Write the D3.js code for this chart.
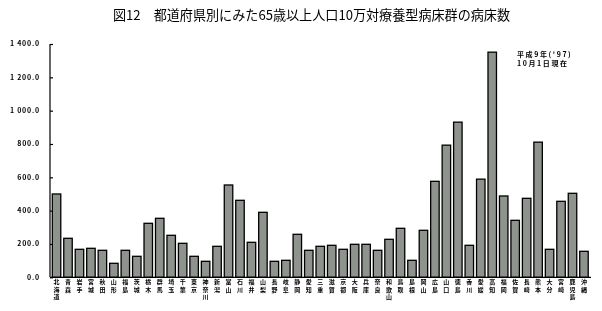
<!DOCTYPE html>
<html>
<head>
<meta charset="utf-8">
<script src="https://cdn.jsdelivr.net/npm/d3@7"></script>
<style>
	body { margin: 0; background: #fff; }
	svg { display: block; font-family: "Noto Sans CJK JP", sans-serif; will-change: transform; }
</style>
</head>
<body>
<div id="viz"></div>
<script>
// 都道府県
const prefs = ['北海道', '青森', '岩手', '宮城', '秋田', '山形', '福島', '茨城', '栃木', '群馬',
	'埼玉', '千葉', '東京', '神奈川', '新潟', '富山', '石川', '福井', '山梨', '長野',
	'岐阜', '静岡', '愛知', '三重', '滋賀', '京都', '大阪', '兵庫', '奈良', '和歌山',
	'鳥取', '島根', '岡山', '広島', '山口', '徳島', '香川', '愛媛', '高知', '福岡',
	'佐賀', '長崎', '熊本', '大分', '宮崎', '鹿児島', '沖縄'];

// 65歳以上人口10万対 病床数
const beds = [500, 234, 168, 174, 162, 84, 162, 126, 324, 354,
	252, 204, 126, 96, 186, 554, 462, 210, 390, 96,
	102, 258, 162, 186, 192, 168, 198, 198, 162, 228,
	294, 102, 282, 576, 793, 931, 192, 589, 1351, 488,
	342, 474, 811, 168, 456, 504, 156];

const yTicks = [0, 200, 400, 600, 800, 1000, 1200, 1400];
const yTickLabels = ['0.0', '200.0', '400.0', '600.0', '800.0', '1 000.0', '1 200.0', '1 400.0'];

const title = '図12　都道府県別にみた65歳以上人口10万対療養型病床群の病床数';
const note = ['平成9年(\'97)', '10月1日現在'];

const width = 602, height = 311;

const svg = d3.select('#viz').append('svg')
	.attr('width', width)
	.attr('height', height);

const x = d3.scaleBand()
	.domain(prefs)
	.range([50, 590.5])
	.paddingInner(0.26)
	.paddingOuter(0.2);

const y = d3.scaleLinear()
	.domain([0, 1400])
	.range([277.3, 44]);

// title
svg.append('text')
	.attr('x', 311.5)
	.attr('y', 20)
	.attr('text-anchor', 'middle')
	.attr('font-size', 13.1)
	.attr('fill', '#000')
	.text(title);

// y axis
const yAxis = svg.append('g')
	.attr('transform', 'translate(50,0)')
	.call(d3.axisRight(y).tickValues(yTicks).tickSize(3).tickFormat(''));
yAxis.select('.domain').attr('stroke', '#000').attr('stroke-width', 1.2).attr('d', 'M0,' + y(1400) + 'V' + y(0));
yAxis.selectAll('.tick line').attr('stroke', '#000').attr('stroke-width', 1.2);

svg.append('g').selectAll('text')
	.data(yTicks)
	.enter()
	.append('text')
	.attr('x', 40)
	.attr('y', (d) => y(d))
	.attr('dy', '0.35em')
	.attr('text-anchor', 'end')
	.attr('font-size', 7)
	.attr('font-weight', 'bold')
	.attr('letter-spacing', 0.8)
	.attr('fill', '#000')
	.text((d, i) => yTickLabels[i]);

// bars
svg.append('g').selectAll('rect')
	.data(beds)
	.enter()
	.append('rect')
	.attr('x', (d, i) => x(prefs[i]))
	.attr('y', (d) => y(d))
	.attr('width', x.bandwidth())
	.attr('height', (d) => y(0) - y(d))
	.attr('fill', '#8e938d')
	.attr('stroke', '#000')
	.attr('stroke-width', 1.3);

// x axis baseline
svg.append('line')
	.attr('x1', 50)
	.attr('x2', 591)
	.attr('y1', y(0))
	.attr('y2', y(0))
	.attr('stroke', '#000')
	.attr('stroke-width', 1.3);

// vertical prefecture labels
const labels = svg.append('g').selectAll('text')
	.data(prefs)
	.enter()
	.append('text')
	.attr('text-anchor', 'middle')
	.attr('font-size', 6)
	.attr('font-weight', 'bold')
	.attr('fill', '#000');

labels.each(function (d) {
	const t = d3.select(this);
	const cx = x(d) + x.bandwidth() / 2;
	d.split('').forEach((ch, k) => {
		t.append('tspan')
			.attr('x', cx)
			.attr('y', 284 + k * 7.7)
			.text(ch);
	});
});

// note
svg.append('g').selectAll('text')
	.data(note)
	.enter()
	.append('text')
	.attr('x', 517)
	.attr('y', (d, i) => 57 + i * 9)
	.attr('font-size', 7)
	.attr('font-weight', 'bold')
	.attr('letter-spacing', 1.6)
	.attr('fill', '#000')
	.text((d) => d);
</script>
</body>
</html>
